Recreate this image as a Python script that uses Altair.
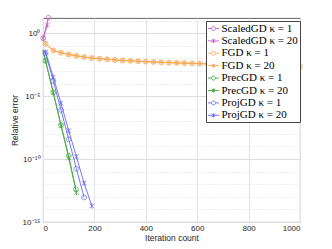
import altair as alt
import pandas as pd

# ---------------- data ----------------
SERIES = [
    "ScaledGD κ = 1", "ScaledGD κ = 20",
    "FGD κ = 1", "FGD κ = 20",
    "PrecGD κ = 1", "PrecGD κ = 20",
    "ProjGD κ = 1", "ProjGD κ = 20",
]
COLORS = ["#bf5fc8", "#bf5fc8", "#f6a552", "#f6a552",
          "#46a846", "#46a846", "#6a6af0", "#6a6af0"]

SCALED1_X = [1, 21]
SCALED1_Y = [0.40, 17.0]
SCALED20_X = [1, 17]
SCALED20_Y = [0.40, 4.4]

FGD_X = [0, 10, 40, 70, 100, 130, 160, 190, 220, 250, 280, 310, 340, 370, 400,
         430, 460, 490, 520, 550, 580, 610, 640, 670, 700, 730, 760, 790, 820,
         850, 880, 910, 940, 970, 1000]
FGD1_Y = [0.24, 0.141, 0.0417, 0.0275, 0.0200, 0.0158, 0.0126, 0.0105, 0.00933,
          0.00832, 0.00741, 0.00676, 0.00631, 0.00589, 0.00550, 0.00513, 0.00479,
          0.00457, 0.00437, 0.00417, 0.00398, 0.00380, 0.00363, 0.00347, 0.00331,
          0.00316, 0.00302, 0.00288, 0.00275, 0.00263, 0.00251, 0.00245, 0.00234,
          0.00229, 0.00219]
FGD20_Y = [0.25, 0.148, 0.0430, 0.0282, 0.0205, 0.0161, 0.0129, 0.0107, 0.00950,
           0.00845, 0.00752, 0.00685, 0.00638, 0.00595, 0.00556, 0.00518, 0.00484,
           0.00461, 0.00441, 0.00420, 0.00401, 0.00383, 0.00366, 0.00349, 0.00333,
           0.00318, 0.00304, 0.00290, 0.00277, 0.00265, 0.00253, 0.00246, 0.00236,
           0.00230, 0.00221]

PREC1_X = [0, 10, 40, 70, 100, 128]
PREC1_Y = [4.0e-2, 6.3e-3, 2.0e-5, 5.0e-8, 1.8e-10, 4.0e-13]
PREC20_X = [0, 10, 40, 70, 100, 130]
PREC20_Y = [4.0e-2, 6.3e-3, 1.8e-5, 4.5e-8, 1.26e-10, 2.1e-13]

PROJ1_X = [0, 10, 40, 70, 100, 130, 160]
PROJ1_Y = [3.5e-2, 2.5e-2, 1.6e-4, 7.9e-7, 3.7e-9, 1.7e-11, 8.9e-14]
PROJ20_X = [0, 10, 40, 70, 100, 130, 160, 190]
PROJ20_Y = [4.5e-2, 3.2e-2, 3.2e-4, 2.7e-6, 1.8e-8, 1.55e-10, 1.2e-12, 1.9e-14]

X_TICKS = [0, 200, 400, 600, 800, 1000]
Y_TICK_EXP = [0, -5, -10, -15]
Y_TICK_LABELS = ["10⁰", "10⁻⁵", "10⁻¹⁰", "10⁻¹⁵"]
Y_DOMAIN = [1e-15, 16]

# ---------------- table ----------------
rows = []
def add(name, xs, ys, first_marked):
    for i, (x, y) in enumerate(zip(xs, ys)):
        rows.append({"series": name, "iter": x, "err": y,
                     "marker": bool(first_marked or i > 0)})

add(SERIES[0], SCALED1_X, SCALED1_Y, True)
add(SERIES[1], SCALED20_X, SCALED20_Y, True)
add(SERIES[2], FGD_X, FGD1_Y, False)
add(SERIES[3], FGD_X, FGD20_Y, False)
add(SERIES[4], PREC1_X, PREC1_Y, False)
add(SERIES[5], PREC20_X, PREC20_Y, False)
add(SERIES[6], PROJ1_X, PROJ1_Y, False)
add(SERIES[7], PROJ20_X, PROJ20_Y, False)
df = pd.DataFrame(rows)

CIRCLE = "M-0.8,0A0.8,0.8,0,1,1,0.8,0A0.8,0.8,0,1,1,-0.8,0"
STAR = "M-0.75,-0.75L0.75,0.75M-0.75,0.75L0.75,-0.75M0,-0.9L0,0.9"
LEG_CIRCLE = "M-1,0L-0.36,0M0.36,0L1,0M-0.36,0A0.36,0.36,0,1,1,0.36,0A0.36,0.36,0,1,1,-0.36,0"
LEG_STAR = "M-1,0L1,0M-0.3,-0.3L0.3,0.3M-0.3,0.3L0.3,-0.3M0,-0.38L0,0.38"
PLOT_SHAPES = [CIRCLE, STAR] * 4
LEG_SHAPES = [LEG_CIRCLE, LEG_STAR] * 4

lab_expr = ""
for e, lab in zip(Y_TICK_EXP, Y_TICK_LABELS):
    lab_expr += f"round(log(datum.value)/LN10) == {e} ? '{lab}' : "
lab_expr += "''"

x_enc = alt.X("iter:Q", scale=alt.Scale(domain=[0, 1000], nice=False),
              axis=alt.Axis(values=X_TICKS, format="d", title="Iteration count", grid=True,
                            gridColor="#e4e4e4", ticks=False, domain=False,
                            labelFontSize=8, labelPadding=2, titlePadding=1,
                            titleFontSize=8.5))
y_enc = alt.Y("err:Q",
              scale=alt.Scale(type="log", domain=Y_DOMAIN, nice=False),
              axis=alt.Axis(values=[10.0 ** k for k in range(-15, 2)],
                            labelExpr=lab_expr, title="Relative error",
                            grid=True, gridColor="#dedede",
                            gridDash={"condition": {"test": "round(log(datum.value)/LN10) % 5 == 0",
                                                    "value": []},
                                      "value": [1, 2]},
                            ticks=False, domain=False, labelFontSize=8,
                            labelPadding=3, titlePadding=3, titleFontSize=8.5,
                            labelOverlap=False))

color_nolegend = alt.Color("series:N", scale=alt.Scale(domain=SERIES, range=COLORS), legend=None)

lines = alt.Chart(df).mark_line(strokeWidth=0.9, clip=False).encode(
    x=x_enc, y=y_enc, color=color_nolegend, detail="series:N", order="iter:Q")

points = alt.Chart(df).transform_filter("datum.marker").mark_point(
    filled=False, strokeWidth=0.75, size=36, opacity=1).encode(
    x=x_enc, y=y_enc, color=color_nolegend,
    shape=alt.Shape("series:N", scale=alt.Scale(domain=SERIES, range=PLOT_SHAPES), legend=None))

leg = alt.Legend(title=None, orient="none", legendX=163, legendY=3,
                 labelFont="Liberation Serif", labelFontSize=11, labelColor="black",
                 symbolSize=121, symbolStrokeWidth=0.9, labelOffset=2,
                 padding=1.5, rowPadding=1.4, strokeColor="#444", fillColor="white",
                 cornerRadius=0, symbolOpacity=1, labelLimit=200)

legend_layer = alt.Chart(df).transform_filter("false").mark_point(
    filled=False, strokeWidth=0.9).encode(
    color=alt.Color("series:N", scale=alt.Scale(domain=SERIES, range=COLORS), legend=leg),
    shape=alt.Shape("series:N", scale=alt.Scale(domain=SERIES, range=LEG_SHAPES), legend=leg))

chart = alt.layer(lines, points, legend_layer).resolve_scale(
    color="independent", shape="independent").properties(
    width=257, height=204,
    autosize=alt.AutoSizeParams(type="none"),
    padding={"left": 35, "top": 10, "right": 24, "bottom": 23},
).configure_view(stroke="#555555", strokeWidth=0.9).configure_axis(
    labelFont="Liberation Sans", titleFont="Liberation Sans",
    labelColor="#262626", titleColor="#262626", titleFontWeight="normal")

chart.save("out.html", embed_options={"renderer": "svg", "actions": False})
